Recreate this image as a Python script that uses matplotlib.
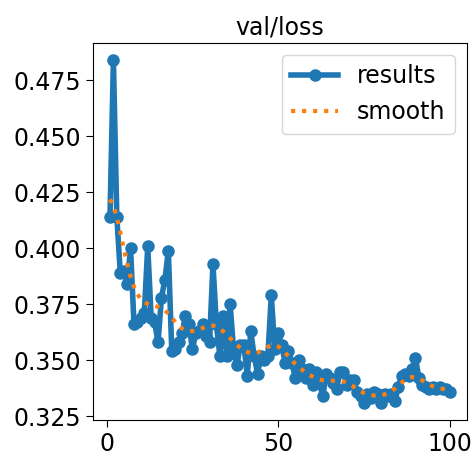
import numpy as np
import matplotlib
matplotlib.use('Agg')
import matplotlib.pyplot as plt

epochs = np.arange(1, 101)

val_loss = [
    0.414, 0.484, 0.414, 0.389, 0.390, 0.384, 0.400, 0.366, 0.367, 0.369,
    0.371, 0.401, 0.369, 0.367, 0.358, 0.378, 0.386, 0.399, 0.354, 0.355,
    0.358, 0.362, 0.370, 0.366, 0.355, 0.362, 0.363, 0.366, 0.361, 0.358,
    0.393, 0.366, 0.352, 0.370, 0.352, 0.375, 0.355, 0.348, 0.357, 0.357,
    0.343, 0.363, 0.352, 0.344, 0.352, 0.350, 0.352, 0.379, 0.355, 0.362,
    0.357, 0.349, 0.354, 0.349, 0.342, 0.350, 0.346, 0.342, 0.346, 0.339,
    0.345, 0.340, 0.334, 0.344, 0.342, 0.340, 0.337, 0.345, 0.345, 0.339,
    0.341, 0.341, 0.336, 0.334, 0.331, 0.335, 0.333, 0.336, 0.335, 0.331,
    0.335, 0.334, 0.335, 0.332, 0.338, 0.343, 0.344, 0.343, 0.346, 0.351,
    0.342, 0.339, 0.338, 0.337, 0.338, 0.337, 0.338, 0.337, 0.337, 0.336,
]


def gaussian_smooth(y, sigma=3, truncate=4.0):
    # same as scipy.ndimage.gaussian_filter1d with mode='reflect'
    r = int(truncate * sigma + 0.5)
    k = np.exp(-0.5 * (np.arange(-r, r + 1) / sigma) ** 2)
    k /= k.sum()
    yp = np.pad(np.asarray(y, float), r, mode='symmetric')
    return np.convolve(yp, k, mode='valid')


plt.rcParams['font.size'] = 17

fig = plt.figure(figsize=(4.72, 4.59), dpi=100)
ax = fig.add_axes([0.197, 0.085, 0.792, 0.821])

ax.plot(epochs, val_loss, marker='.', label='results', linewidth=4, markersize=16)
ax.plot(epochs, gaussian_smooth(val_loss), ':', label='smooth', linewidth=3)

ax.set_title('val/loss', fontsize=17)
ax.set_xticks([0, 50, 100])
ax.set_yticks([0.325, 0.350, 0.375, 0.400, 0.425, 0.450, 0.475])
ax.tick_params(length=5)
ax.legend(loc='upper right', fontsize=17)

fig.savefig('out.png', dpi=100)
